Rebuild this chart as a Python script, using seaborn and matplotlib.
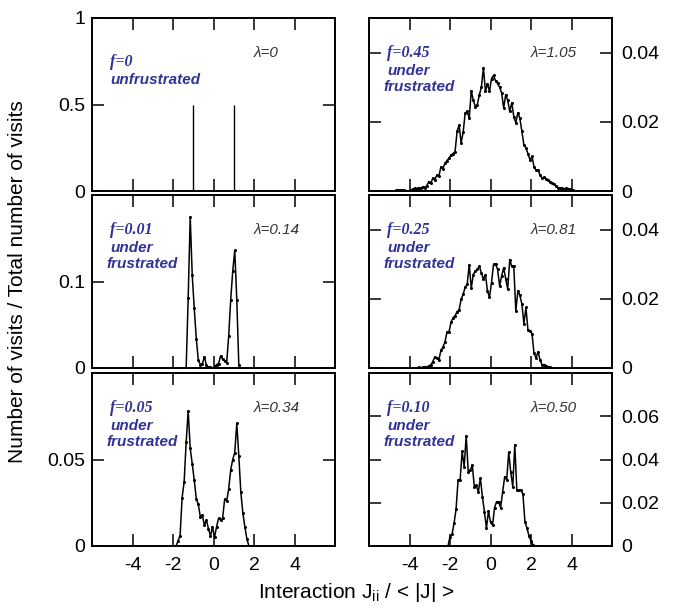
import numpy as np
import seaborn as sns
import matplotlib
matplotlib.use("Agg")
import matplotlib.pyplot as plt

# bin width of the histograms (units of <|J|>)
bin_w = 0.1

# f = 0 : two delta spikes
spike_x = [-1.0, 1.0]
spike_y = [0.5, 0.5]

# f = 0.01
f001_start = -1.35
f001_y = [0.0, 0.081, 0.175, 0.107, 0.069, 0.034, 0.009, 0.004, 0.005, 0.013,
          0.003, 0.001, 0.001, 0.0, 0.001, 0.004, 0.005, 0.014, 0.010, 0.008,
          0.006, 0.037, 0.079, 0.112, 0.136, 0.079, 0.003, 0.0]

# f = 0.05
f005_start = -1.85
f005_y = [0.0, 0.003, 0.006, 0.028, 0.037, 0.060, 0.078, 0.0565, 0.0475, 0.038,
          0.0274, 0.024, 0.0168, 0.0178, 0.012, 0.015, 0.010, 0.0057, 0.011, 0.005,
          0.011, 0.016, 0.015, 0.016, 0.027, 0.026, 0.033, 0.044, 0.050, 0.054,
          0.071, 0.052, 0.031, 0.019, 0.011, 0.004, 0.0, 0.0]

# f = 0.45
f045_start = -4.65
f045_y = [0.0002, 0.0003, 0.0002, 0.0003, 0.0002, 0.0, 0.0, 0.0002, 0.0005, 0.0008,
          0.0006, 0.0010, 0.0008, 0.0012, 0.0010, 0.0015, 0.0027, 0.0022, 0.0037, 0.0032,
          0.0046, 0.0042, 0.0070, 0.0065, 0.0080, 0.0088, 0.0095, 0.0104, 0.0108, 0.0114,
          0.0172, 0.0190, 0.0139, 0.0170, 0.0225, 0.0230, 0.0210, 0.0290, 0.0262, 0.0244,
          0.0250, 0.0278, 0.0300, 0.0356, 0.0288, 0.0310, 0.0288, 0.0325, 0.0334, 0.0318,
          0.0311, 0.0300, 0.0283, 0.0240, 0.0278, 0.0262, 0.0230, 0.0255, 0.0215, 0.0197,
          0.0226, 0.0210, 0.0172, 0.0133, 0.0125, 0.0108, 0.0090, 0.0100, 0.0070, 0.0060,
          0.0060, 0.0046, 0.0037, 0.0040, 0.0034, 0.0032, 0.0027, 0.0024, 0.0020, 0.0015,
          0.0010, 0.0008, 0.0008, 0.0006, 0.0008, 0.0007, 0.0005, 0.0003, 0.0]

# f = 0.25
f025_start = -3.75
f025_y = [0.0, 0.0, 0.0002, 0.0, 0.0002, 0.0003, 0.0002, 0.0006, 0.0009, 0.0018,
          0.0032, 0.0028, 0.0023, 0.0051, 0.0060, 0.0075, 0.0104, 0.0104, 0.0132, 0.0145,
          0.0151, 0.0163, 0.0168, 0.0199, 0.0213, 0.0234, 0.0242, 0.0299, 0.0231, 0.0270,
          0.0280, 0.0285, 0.0294, 0.0275, 0.0257, 0.0270, 0.0223, 0.0204, 0.0247, 0.0300,
          0.0300, 0.0285, 0.0237, 0.0266, 0.0290, 0.0258, 0.0228, 0.0313, 0.0294, 0.0294,
          0.0164, 0.0223, 0.0210, 0.0185, 0.0128, 0.0175, 0.0109, 0.0108, 0.0099, 0.0042,
          0.0030, 0.0047, 0.0023, 0.0009, 0.0010, 0.0006, 0.0003, 0.0002, 0.0, 0.0]

# f = 0.10
f010_start = -2.1
f010_y = [0.0, 0.0043, 0.0054, 0.0105, 0.0171, 0.0306, 0.0306, 0.0437, 0.0367, 0.0510,
          0.0344, 0.0350, 0.0375, 0.0275, 0.0280, 0.0251, 0.0313, 0.0228, 0.0159, 0.0082,
          0.0162, 0.0110, 0.0097, 0.0177, 0.0205, 0.0205, 0.0177, 0.0251, 0.0320, 0.0306,
          0.0434, 0.0340, 0.0275, 0.0468, 0.0260, 0.0260, 0.0260, 0.0240, 0.0113, 0.0082,
          0.0048, 0.0023, 0.0005, 0.0, 0.0]

f_labels = ["f=0", "f=0.01", "f=0.05", "f=0.45", "f=0.25", "f=0.10"]
lam_labels = ["\u03bb=0", "\u03bb=0.14", "\u03bb=0.34", "\u03bb=1.05", "\u03bb=0.81", "\u03bb=0.50"]
y_limits = [1.0, 0.2, 0.1, 0.05, 0.05, 0.08]
y_ticks = [[0, 0.5, 1], [0, 0.1], [0, 0.05], [0, 0.02, 0.04], [0, 0.02, 0.04], [0, 0.02, 0.04, 0.06]]
y_ticklabels = [["0", "0.5", "1"], ["0", "0.1"], ["0", "0.05"], ["0", "0.02", "0.04"],
                ["0", "0.02", "0.04"], ["0", "0.02", "0.04", "0.06"]]
x_ticks = [-4, -2, 0, 2, 4]

sns.set_style("ticks")
plt.rcParams['font.family'] = ['Liberation Sans', 'DejaVu Sans']
plt.rcParams['axes.unicode_minus'] = False
plt.rcParams['mathtext.default'] = 'regular'
plt.rcParams['text.color'] = 'black'
plt.rcParams['axes.edgecolor'] = 'black'
plt.rcParams['xtick.color'] = 'black'
plt.rcParams['ytick.color'] = 'black'

W, H = 673, 610
fig = plt.figure(figsize=(W / 100, H / 100), dpi=100)

blue = "#303395"
lam_col = "#333333"

# axes positions in pixels: (left, bottom_from_top, width, height)
col_x = [92, 369]
row_bottom = [191, 368, 546]
ax_w, ax_h = 243, 173

curves = [None,
          (f001_start, f001_y),
          (f005_start, f005_y),
          (f045_start, f045_y),
          (f025_start, f025_y),
          (f010_start, f010_y)]

for i in range(6):
    col = i // 3
    row = i % 3
    ax = fig.add_axes([col_x[col] / W, (H - row_bottom[row]) / H, ax_w / W, ax_h / H])

    if curves[i] is None:
        ax.vlines(spike_x, 0, spike_y, color="black", linewidth=1.0)
    else:
        start, yv = curves[i]
        xv = np.round(start + bin_w * np.arange(len(yv)), 3)
        sns.lineplot(x=xv, y=yv, ax=ax, color="black", linewidth=1.1,
                     marker="o", markersize=2.2, markeredgewidth=0)

    ax.set_xlim(-6, 6)
    ax.set_ylim(0, y_limits[i])
    ax.set_xticks(x_ticks)
    ax.set_yticks(y_ticks[i])
    ax.set_yticklabels(y_ticklabels[i])
    ax.tick_params(direction="in", length=8.5, width=1.1, top=True, bottom=True,
                   left=True, right=True, labelsize=14, colors="black")
    ax.tick_params(axis="x", pad=8)
    if col == 0:
        ax.tick_params(axis="y", labelleft=True, labelright=False, pad=5)
    else:
        ax.tick_params(axis="y", labelleft=False, labelright=True, pad=7)
    if row != 2:
        ax.tick_params(axis="x", labelbottom=False)
    for sp in ax.spines.values():
        sp.set_linewidth(1.4)
        sp.set_color("black")
    ax.set_xlabel("")
    ax.set_ylabel("")

    if i == 0:
        ax.text(0.074, 0.746, f_labels[i], transform=ax.transAxes, color=blue,
                family="Liberation Serif", weight="bold", style="italic", fontsize=11.5, va="center")
        ax.text(0.074, 0.64, "unfrustrated", transform=ax.transAxes, color=blue,
                weight="bold", style="italic", fontsize=11, va="center")
    else:
        ax.text(0.074, 0.798, f_labels[i], transform=ax.transAxes, color=blue,
                family="Liberation Serif", weight="bold", style="italic", fontsize=11.5, va="center")
        ax.text(0.074, 0.694, "under", transform=ax.transAxes, color=blue,
                weight="bold", style="italic", fontsize=11, va="center")
        ax.text(0.058, 0.60, "frustrated", transform=ax.transAxes, color=blue,
                weight="bold", style="italic", fontsize=11, va="center")
    ax.text(0.664, 0.798, lam_labels[i], transform=ax.transAxes, color=lam_col,
            style="italic", fontsize=11, va="center")

fig.text(18 / W, 1 - 282 / H, "Number of visits / Total number of visits",
         rotation=90, ha="center", va="center", fontsize=15, color="black")
fig.text(356 / W, 1 - 592 / H, "Interaction J$_{ii}$ / < |J| >",
         ha="center", va="center", fontsize=15, color="black")

fig.savefig("out.png", dpi=100)
